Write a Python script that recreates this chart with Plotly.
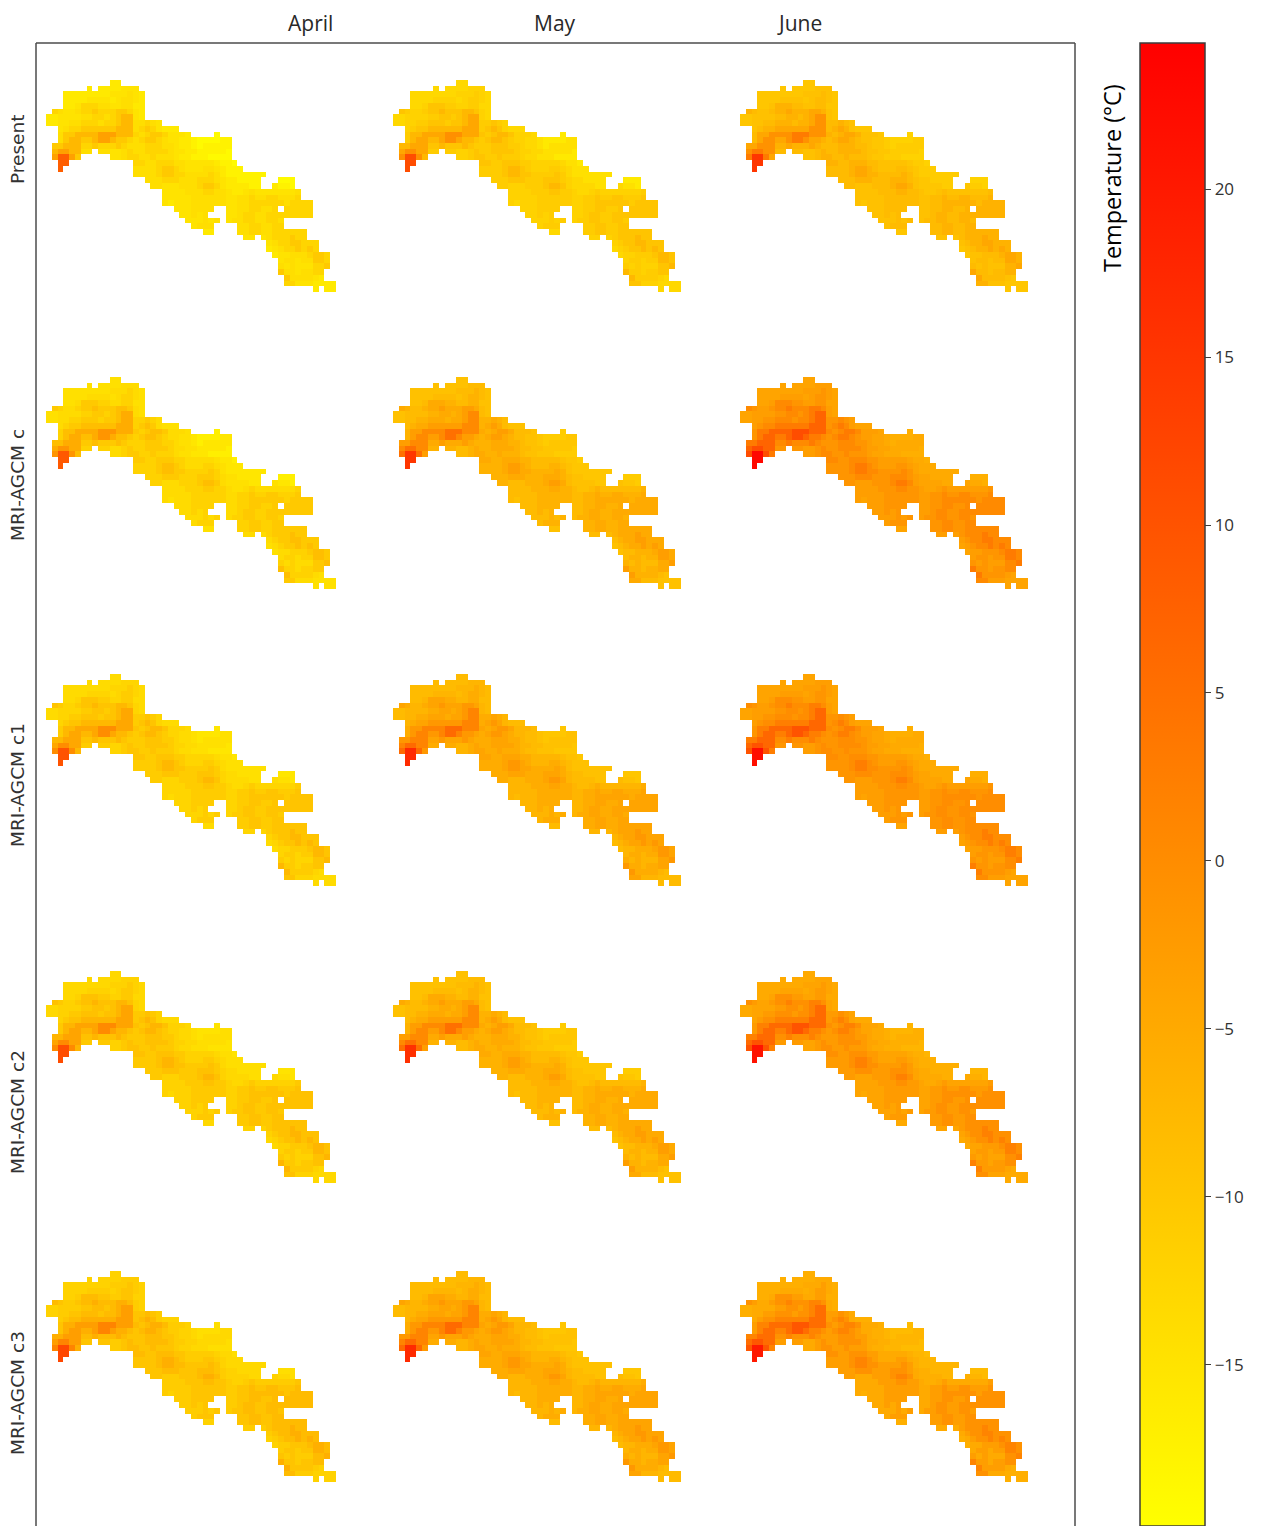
import plotly.graph_objects as go

W, H = 1264, 1526

MONTHS = ["April", "May", "June"]
MODELS = ["Present", "MRI-AGCM c", "MRI-AGCM c1", "MRI-AGCM c2", "MRI-AGCM c3"]
COLORBAR_TICKS = [-15, -10, -5, 0, 5, 10, 15, 20]
TEMP_MIN, TEMP_MAX = -19.8, 24.35

# Temperature class of every land cell: (first column, classes)
CLASS_ROWS = [
    [(11, "44")],
    [(7, "4"), (9, "4444555")],
    [(3, "44444444555654")],
    [(3, "44445555456654")],
    [(3, "44577766556644")],
    [(1, "7655677877788754")],
    [(0, "44555566776789954")],
    [(0, "44556677767789966765")],
    [(2, "5677888888" "99967875444")],
    [(2, "6889999" "aaa" "999" "7678875554"), (29, "2")],
    [(2, "68998" "89aa9" "88767" "88765" "54432" "22233")],
    [(1, "88999" "77877" "78766" "67776" "65443" "23333" "3")],
    [(1, "9aa9966"), (9, "66556" "76677" "77655" "44333" "332")],
    [(1, "abba8"), (11, "55677" "66766" "65443" "33222" "2")],
    [(2, "bb"), (15, "77667" "77665" "55554" "332")],
    [(2, "b"), (15, "66667" "88765" "55665" "4333")],
    [(15, "66667" "88776" "66676" "43333" "333")],
    [(17, "66677" "76667" "77654" "43333"), (40, "222")],
    [(18, "66555" "66678" "87544" "4433"), (39, "4332")],
    [(20, "55556" "66776" "65445" "65555" "5556")],
    [(20, "55555" "66666" "65566" "76677" "6667")],
    [(20, "54555" "66666" "65566" "77777" "76777" "7")],
    [(22, "5556666"), (31, "556677667"), (41, "77777")],
    [(23, "55656"), (31, "55677" "66777" "77777")],
    [(24, "555656"), (31, "5667766776")],
    [(25, "5666"), (33, "66776677")],
    [(27, "44"), (33, "667766777777")],
    [(34, "55"), (37, "56777877")],
    [(38, "567788777")],
    [(38, "456778787")],
    [(39, "4556667887")],
    [(40, "566566887")],
    [(40, "656555778")],
    [(40, "86656677")],
    [(41, "8666654")],
    [(41, "775554444")],
    [(46, "4"), (48, "44")],
]
N_COLS = 50
CLASS_KEYS = "23456789ab"

# Temperature of each class, per model (row) and month (column), in degrees C
PRESENT_APRIL = [-19, -17.5, -16, -15, -14, -12.5, -10.5, -7.5, -3.5, 8]
PRESENT_MAY = [-16, -14.5, -13, -12, -11, -9.5, -7.5, -4.5, -0.5, 11]
PRESENT_JUNE = [-12, -11, -10, -9, -8, -6.5, -4.5, -1, 3, 15]
C_APRIL = [-17, -15.5, -14.5, -13.5, -12, -10.5, -8.5, -5.5, -1.5, 9]
C_MAY = [-11, -10, -9, -8, -6.5, -5, -3, 0.5, 5, 15]
C_JUNE = [-6, -5, -4, -3, -1.5, 0.5, 3, 7, 11, 23]
C1_APRIL = [-15.5, -14.5, -13.5, -12.5, -11, -9.5, -7.5, -4.5, 0, 10]
C1_MAY = [-10, -9, -8, -7, -5.5, -4, -2, 1.5, 6, 17]
C1_JUNE = [-6, -5, -4, -3, -1.5, 0, 2.5, 6.5, 10, 22]
C2_APRIL = [-15, -14, -13, -12, -10.5, -9, -7, -4, 0.5, 11]
C2_MAY = [-11, -10, -9, -8, -6.5, -5, -3, 0.5, 5, 16]
C2_JUNE = [-7, -6, -5, -4, -2.5, -0.5, 2, 6, 10, 21]
C3_APRIL = [-14, -13, -12, -11, -9.5, -8, -6, -3, 1.5, 12]
C3_MAY = [-10, -9, -8, -7, -5.5, -4, -2, 1.5, 6, 17]
C3_JUNE = [-8, -7, -6, -5, -3, -1, 1.5, 5.5, 9.5, 20]
PANEL_TEMPS = [
    [PRESENT_APRIL, PRESENT_MAY, PRESENT_JUNE],
    [C_APRIL, C_MAY, C_JUNE],
    [C1_APRIL, C1_MAY, C1_JUNE],
    [C2_APRIL, C2_MAY, C2_JUNE],
    [C3_APRIL, C3_MAY, C3_JUNE],
]

PANEL_LEFT = [46, 393, 740]
PANEL_RIGHT = [336, 681, 1028]
PANEL_TOP = [80, 377, 674, 971, 1271]
PANEL_BOTTOM = [292, 589, 886, 1183, 1482]
MONTH_X = [310, 555, 799]
MODEL_Y = [150, 485, 785, 1112, 1393]


def grid(temps):
    rows = []
    for segments in CLASS_ROWS:
        row = [None] * N_COLS
        for start, classes in segments:
            for i, key in enumerate(classes):
                row[start + i] = temps[CLASS_KEYS.index(key)]
        rows.append(row)
    return rows


AUTUMN_R = [[0, "rgb(255,255,0)"], [1, "rgb(255,0,0)"]]
fig = go.Figure()
layout = {}
n = 0
for r, month_temps in enumerate(PANEL_TEMPS):
    for c, temps in enumerate(month_temps):
        n += 1
        suffix = "" if n == 1 else str(n)
        fig.add_trace(go.Heatmap(
            z=grid(temps), coloraxis="coloraxis",
            xaxis="x" + suffix, yaxis="y" + suffix,
            hoverongaps=False,
            name=f"{MODELS[r]} {MONTHS[c]}",
        ))
        layout["xaxis" + suffix] = dict(
            domain=[PANEL_LEFT[c] / W, PANEL_RIGHT[c] / W],
            range=[-0.5, N_COLS - 0.5], visible=False, anchor="y" + suffix, fixedrange=True)
        layout["yaxis" + suffix] = dict(
            domain=[1 - PANEL_BOTTOM[r] / H, 1 - PANEL_TOP[r] / H],
            range=[len(CLASS_ROWS) - 0.5, -0.5], visible=False, anchor="x" + suffix, fixedrange=True)

FRAME = "rgb(75,75,75)"
shapes = [
    dict(type="line", xref="paper", yref="paper", x0=36 / W, x1=1075 / W, y0=1 - 43 / H, y1=1 - 43 / H,
         line=dict(color=FRAME, width=1.5)),
    dict(type="line", xref="paper", yref="paper", x0=36 / W, x1=36 / W, y0=0, y1=1 - 43 / H,
         line=dict(color=FRAME, width=1.5)),
    dict(type="line", xref="paper", yref="paper", x0=1075 / W, x1=1075 / W, y0=0, y1=1 - 43 / H,
         line=dict(color=FRAME, width=1.5)),
]
annotations = []
for name, x in zip(MONTHS, MONTH_X):
    annotations.append(dict(text=name, x=x / W, y=1 - 23 / H, xref="paper", yref="paper",
                            showarrow=False, xanchor="center", yanchor="middle",
                            font=dict(family="Open Sans", size=21, color="rgb(40,40,40)")))
for name, y in zip(MODELS, MODEL_Y):
    annotations.append(dict(text=name, x=17 / W, y=1 - y / H, xref="paper", yref="paper",
                            showarrow=False, textangle=-90, xanchor="center", yanchor="middle",
                            font=dict(family="DejaVu Sans", size=18.5, color="rgb(50,50,50)")))
annotations.append(dict(text="Temperature (°C)", x=1112 / W, y=1 - 178 / H, xref="paper", yref="paper",
                        showarrow=False, textangle=-90, xanchor="center", yanchor="middle",
                        font=dict(family="Open Sans", size=23.4, color="black")))

fig.update_layout(
    width=W, height=H, margin=dict(l=0, r=0, t=0, b=0, autoexpand=False),
    paper_bgcolor="white", plot_bgcolor="white", shapes=shapes, annotations=annotations,
    coloraxis=dict(
        colorscale=AUTUMN_R, cmin=TEMP_MIN, cmax=TEMP_MAX,
        colorbar=dict(
            x=1140 / W, xanchor="left", xpad=0, ypad=0,
            y=0, yanchor="bottom", lenmode="pixels", len=H - 43,
            thicknessmode="pixels", thickness=65,
            outlinecolor="rgb(60,60,60)", outlinewidth=1.5,
            tickmode="array", tickvals=COLORBAR_TICKS,
            ticks="outside", ticklen=6, tickcolor="rgb(60,60,60)", tickwidth=1,
            tickfont=dict(family="Open Sans", size=17, color="rgb(50,50,50)"),
        ),
    ),
    **layout,
)
fig.write_html("out.html", config={"displayModeBar": False},
               post_script="document.body.style.margin='0';document.documentElement.style.overflow='hidden';")
